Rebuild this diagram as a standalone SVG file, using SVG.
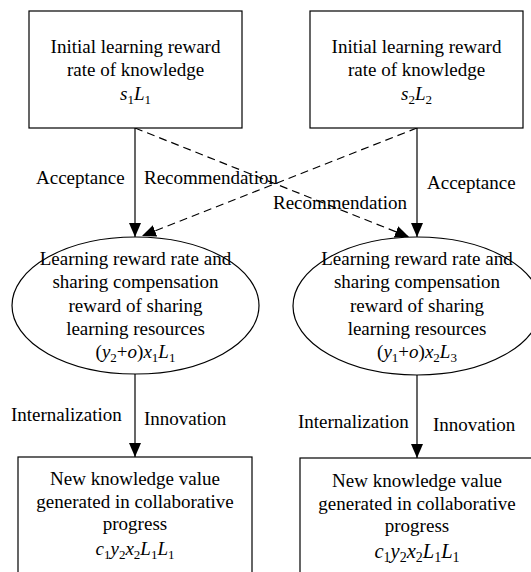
<svg xmlns="http://www.w3.org/2000/svg" width="531" height="572" viewBox="0 0 531 572">
<style>
.box{fill:#fff;stroke:#000;stroke-width:1.2}
.t{font-family:"Liberation Serif","Times New Roman",serif;font-size:19px;fill:#000}
.c{text-anchor:middle}
.i{font-style:italic}
.s{font-size:13px}
.ln{stroke:#000;stroke-width:1.2;fill:none}
.d{stroke-dasharray:8 5}
</style>
<defs>
<marker id="ah" markerUnits="userSpaceOnUse" markerWidth="14" markerHeight="12" refX="14" refY="6" orient="auto">
<path d="M0,0 L14,6 L0,12 z" fill="#000"/>
</marker>
</defs>
<rect width="531" height="572" fill="#fff"/>
<g id="connectors">
<line class="ln" x1="135" y1="128" x2="135" y2="237" marker-end="url(#ah)"/>
<line class="ln" x1="417" y1="128" x2="417" y2="237" marker-end="url(#ah)"/>
<line class="ln d" x1="135" y1="128" x2="409" y2="237" marker-end="url(#ah)"/>
<line class="ln d" x1="417" y1="128" x2="142" y2="236" marker-end="url(#ah)"/>
<line class="ln" x1="135" y1="374" x2="135" y2="457" marker-end="url(#ah)"/>
<line class="ln" x1="417" y1="375" x2="417" y2="458" marker-end="url(#ah)"/>
<text class="t" x="36" y="184">Acceptance</text>
<text class="t" x="144" y="184">Recommendation</text>
<text class="t" x="427" y="189">Acceptance</text>
<text class="t" x="273" y="209">Recommendation</text>
<text class="t" x="11" y="421">Internalization</text>
<text class="t" x="144" y="425">Innovation</text>
<text class="t" x="298" y="428">Internalization</text>
<text class="t" x="433" y="431">Innovation</text>
</g>
<g id="n1">
<rect class="box" x="29" y="11" width="213" height="117"/>
<text class="t c" x="135.5" y="53">Initial learning reward</text>
<text class="t c" x="135.5" y="76">rate of knowledge</text>
<text class="t c" x="135.5" y="100"><tspan class="i">s</tspan><tspan class="s" dy="4">1</tspan><tspan class="i" dy="-4">L</tspan><tspan class="s" dy="4">1</tspan></text>
</g>
<g id="n2">
<rect class="box" x="310" y="11" width="213" height="117"/>
<text class="t c" x="416.5" y="53">Initial learning reward</text>
<text class="t c" x="416.5" y="76">rate of knowledge</text>
<text class="t c" x="416.5" y="100"><tspan class="i">s</tspan><tspan class="s" dy="4">2</tspan><tspan class="i" dy="-4">L</tspan><tspan class="s" dy="4">2</tspan></text>
</g>
<g id="n3">
<ellipse class="box" cx="135.5" cy="305.5" rx="123.5" ry="68.5"/>
<text class="t c" x="135.5" y="265">Learning reward rate and</text>
<text class="t c" x="135.5" y="288">sharing compensation</text>
<text class="t c" x="135.5" y="312">reward of sharing</text>
<text class="t c" x="135.5" y="335">learning resources</text>
<text class="t c" x="135.5" y="358">(<tspan class="i">y</tspan><tspan class="s" dy="4">2</tspan><tspan dy="-4">+</tspan><tspan class="i">o</tspan>)<tspan class="i">x</tspan><tspan class="s" dy="4">1</tspan><tspan class="i" dy="-4">L</tspan><tspan class="s" dy="4">1</tspan></text>
</g>
<g id="n4">
<ellipse class="box" cx="417" cy="306" rx="124" ry="69"/>
<text class="t c" x="417" y="265">Learning reward rate and</text>
<text class="t c" x="417" y="288">sharing compensation</text>
<text class="t c" x="417" y="312">reward of sharing</text>
<text class="t c" x="417" y="335">learning resources</text>
<text class="t c" x="417" y="358">(<tspan class="i">y</tspan><tspan class="s" dy="4">1</tspan><tspan dy="-4">+</tspan><tspan class="i">o</tspan>)<tspan class="i">x</tspan><tspan class="s" dy="4">2</tspan><tspan class="i" dy="-4">L</tspan><tspan class="s" dy="4">3</tspan></text>
</g>
<g id="n5">
<rect class="box" x="18" y="457" width="234" height="130"/>
<text class="t c" x="135" y="485">New knowledge value</text>
<text class="t c" x="135" y="508">generated in collaborative</text>
<text class="t c" x="135" y="530">progress</text>
<text class="t c" x="135" y="555"><tspan class="i">c</tspan><tspan class="s" dy="4">1</tspan><tspan class="i" dy="-4">y</tspan><tspan class="s" dy="4">2</tspan><tspan class="i" dy="-4">x</tspan><tspan class="s" dy="4">2</tspan><tspan class="i" dy="-4">L</tspan><tspan class="s" dy="4">1</tspan><tspan class="i" dy="-4">L</tspan><tspan class="s" dy="4">1</tspan></text>
</g>
<g id="n6">
<rect class="box" x="300" y="458" width="234" height="130"/>
<text class="t c" x="417" y="487">New knowledge value</text>
<text class="t c" x="417" y="510">generated in collaborative</text>
<text class="t c" x="417" y="532">progress</text>
<text class="t c" x="417" y="558" style="font-size:20.5px"><tspan class="i">c</tspan><tspan class="s" dy="4" style="font-size:14px">1</tspan><tspan class="i" dy="-4">y</tspan><tspan class="s" dy="4" style="font-size:14px">2</tspan><tspan class="i" dy="-4">x</tspan><tspan class="s" dy="4" style="font-size:14px">2</tspan><tspan class="i" dy="-4">L</tspan><tspan class="s" dy="4" style="font-size:14px">1</tspan><tspan class="i" dy="-4">L</tspan><tspan class="s" dy="4" style="font-size:14px">1</tspan></text>
</g>
</svg>
